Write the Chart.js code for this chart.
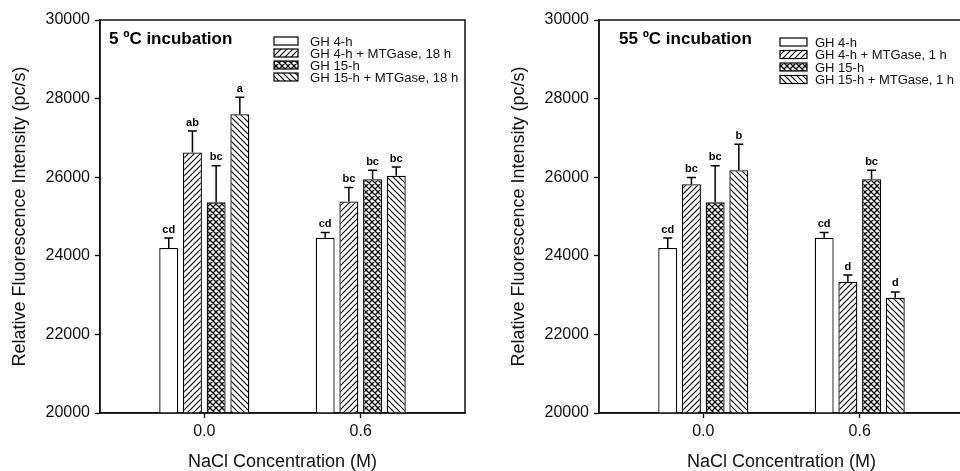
<!DOCTYPE html>
<html>
<head>
<meta charset="utf-8">
<script src="https://cdn.jsdelivr.net/npm/chart.js@4"></script>
<style>
  html, body { margin: 0; padding: 0; background: #fff; overflow: hidden; }
  #wrap { position: relative; width: 960px; height: 471px; overflow: hidden; background: #fff; }
  canvas { position: absolute; top: 0; }
  #c5 { left: 0; }
  #c55 { left: 499px; }
</style>
</head>
<body>
<div id="wrap">
  <canvas id="c5" width="480" height="471"></canvas>
  <canvas id="c55" width="480" height="471"></canvas>
</div>
<script>
// x positions (NaCl, M) and y ticks
const naclConc = [0.0, 0.6];
const yTicks = [20000, 22000, 24000, 26000, 28000, 30000];

// 5 ºC incubation panel
const names5 = ['GH 4-h', 'GH 4-h + MTGase, 18 h', 'GH 15-h', 'GH 15-h + MTGase, 18 h'];
const gh4_5 = [24200, 24460];
const gh4mt_5 = [26630, 25380];
const gh15_5 = [25360, 25950];
const gh15mt_5 = [27600, 26040];
const err_gh4_5 = [250, 130];
const err_gh4mt_5 = [545, 355];
const err_gh15_5 = [930, 230];
const err_gh15mt_5 = [435, 220];
const let_gh4_5 = ['cd', 'cd'];
const let_gh4mt_5 = ['ab', 'bc'];
const let_gh15_5 = ['bc', 'bc'];
const let_gh15mt_5 = ['a', 'bc'];

// 55 ºC incubation panel
const names55 = ['GH 4-h', 'GH 4-h + MTGase, 1 h', 'GH 15-h', 'GH 15-h + MTGase, 1 h'];
const gh4_55 = [24200, 24460];
const gh4mt_55 = [25820, 23340];
const gh15_55 = [25360, 25950];
const gh15mt_55 = [26180, 22930];
const err_gh4_55 = [250, 130];
const err_gh4mt_55 = [170, 170];
const err_gh15_55 = [930, 230];
const err_gh15mt_55 = [660, 150];
const let_gh4_55 = ['cd', 'cd'];
const let_gh4mt_55 = ['bc', 'd'];
const let_gh15_55 = ['bc', 'bc'];
const let_gh15mt_55 = ['b', 'd'];

const family = '"Liberation Sans", Arial, Helvetica, sans-serif';

// hatch fills
function hatch(kind) {
  const s = 6;
  const c = document.createElement('canvas');
  c.width = s; c.height = s;
  const g = c.getContext('2d');
  g.fillStyle = '#fff';
  g.fillRect(0, 0, s, s);
  g.strokeStyle = '#000';
  g.lineWidth = kind === 'cross' ? 1.3 : 1.1;
  g.beginPath();
  if (kind === 'fwd' || kind === 'cross') {
    g.moveTo(0, s); g.lineTo(s, 0);
    g.moveTo(-1, 1); g.lineTo(1, -1);
    g.moveTo(s - 1, s + 1); g.lineTo(s + 1, s - 1);
  }
  if (kind === 'back' || kind === 'cross') {
    g.moveTo(0, 0); g.lineTo(s, s);
    g.moveTo(-1, s - 1); g.lineTo(1, s + 1);
    g.moveTo(s - 1, -1); g.lineTo(s + 1, 1);
  }
  g.stroke();
  return g.createPattern(c, 'repeat');
}

function makePanel(id, p) {
  const ctx0 = document.getElementById(id).getContext('2d');
  const fills = ['#fff', hatch('fwd'), hatch('cross'), hatch('back')];

  const decor = {
    id: 'decor',
    afterDatasetsDraw(chart) {
      const ctx = chart.ctx;
      const a = chart.chartArea;
      const y = chart.scales.y;
      ctx.save();
      // error bars + letters
      p.means.forEach((vals, i) => {
        const meta = chart.getDatasetMeta(i);
        vals.forEach((v, j) => {
          const bx = meta.data[j].x;
          const y0 = y.getPixelForValue(v);
          const y1 = y.getPixelForValue(v + p.errs[i][j]);
          ctx.strokeStyle = '#000';
          ctx.lineWidth = 1.5;
          ctx.beginPath();
          ctx.moveTo(bx, y0); ctx.lineTo(bx, y1);
          ctx.moveTo(bx - 4.5, y1); ctx.lineTo(bx + 4.5, y1);
          ctx.stroke();
          ctx.fillStyle = '#000';
          ctx.font = 'bold 11px ' + family;
          ctx.textAlign = 'center';
          ctx.textBaseline = 'bottom';
          ctx.fillText(p.letters[i][j], bx, y1 - 3);
        });
      });
      // frame
      ctx.strokeStyle = '#111';
      ctx.lineWidth = 1.5;
      ctx.strokeRect(a.left, a.top, a.right - a.left, a.bottom - a.top);
      // panel title
      ctx.fillStyle = '#000';
      ctx.font = 'bold 17px ' + family;
      ctx.textAlign = 'left';
      ctx.textBaseline = 'middle';
      ctx.fillText(p.title, p.titleX, 39);
      // legend
      ctx.font = p.legFont + 'px ' + family;
      p.names.forEach((name, i) => {
        const cy = p.legY + i * p.legStep;
        ctx.fillStyle = fills[i];
        ctx.fillRect(p.legX, cy - 4, p.legW, 8);
        ctx.strokeStyle = '#000';
        ctx.lineWidth = 1.2;
        ctx.strokeRect(p.legX, cy - 4, p.legW, 8);
        ctx.fillStyle = '#111';
        ctx.fillText(name, p.legTextX, cy + 1);
      });
      ctx.restore();
    }
  };

  return new Chart(ctx0, {
    type: 'bar',
    data: {
      datasets: p.names.map((name, i) => ({
        label: name,
        data: naclConc.map((x, j) => ({ x: x, y: p.means[i][j] })),
        backgroundColor: fills[i],
        borderColor: '#000',
        borderWidth: 1.3,
        categoryPercentage: 0.606,
        barPercentage: 0.8,
      })),
    },
    options: {
      responsive: false,
      animation: false,
      layout: { padding: { left: 0, right: 15, top: 20, bottom: 0 } },
      plugins: {
        legend: { display: false },
        tooltip: { enabled: false },
      },
      scales: {
        x: {
          type: 'linear',
          min: -0.4,
          max: 1.0,
          offset: false,
          afterBuildTicks: s => { s.ticks = naclConc.map(v => ({ value: v })); },
          afterFit: s => { s.height = 58; },
          grid: { offset: false, drawOnChartArea: false, tickLength: 5, tickColor: '#000', tickWidth: 1.3 },
          border: { color: '#111', width: 1.5 },
          ticks: {
            color: '#111',
            font: { size: 16, family: family },
            padding: 4,
            maxRotation: 0,
            callback: v => Number(v).toFixed(1),
          },
          title: {
            display: true,
            text: 'NaCl Concentration (M)',
            color: '#111',
            font: { size: 18, family: family, lineHeight: 1 },
            padding: 0,
          },
        },
        y: {
          min: 20000,
          max: 30000,
          afterBuildTicks: s => { s.ticks = yTicks.map(v => ({ value: v })); },
          afterFit: s => { s.width = 100; },
          grid: { drawOnChartArea: false, tickLength: 5, tickColor: '#000', tickWidth: 1.3 },
          border: { color: '#111', width: 1.5 },
          ticks: {
            color: '#111',
            font: { size: 16, family: family },
            padding: 5,
            callback: v => String(v),
          },
          title: {
            display: true,
            text: 'Relative Fluorescence Intensity (pc/s)',
            color: '#111',
            font: { size: 18, family: family, lineHeight: 1 },
            padding: { top: 11 },
          },
        },
      },
    },
    plugins: [decor],
  });
}

makePanel('c5', {
  title: '5 ºC incubation',
  names: names5,
  means: [gh4_5, gh4mt_5, gh15_5, gh15mt_5],
  errs: [err_gh4_5, err_gh4mt_5, err_gh15_5, err_gh15mt_5],
  letters: [let_gh4_5, let_gh4mt_5, let_gh15_5, let_gh15mt_5],
  titleX: 109,
  legX: 274, legW: 24, legTextX: 310, legY: 41, legStep: 12, legFont: 13.2,
});

makePanel('c55', {
  title: '55 ºC incubation',
  names: names55,
  means: [gh4_55, gh4mt_55, gh15_55, gh15mt_55],
  errs: [err_gh4_55, err_gh4mt_55, err_gh15_55, err_gh15mt_55],
  letters: [let_gh4_55, let_gh4mt_55, let_gh15_55, let_gh15mt_55],
  titleX: 120,
  legX: 281, legW: 27, legTextX: 316, legY: 42, legStep: 12.5, legFont: 13,
});
</script>
</body>
</html>
